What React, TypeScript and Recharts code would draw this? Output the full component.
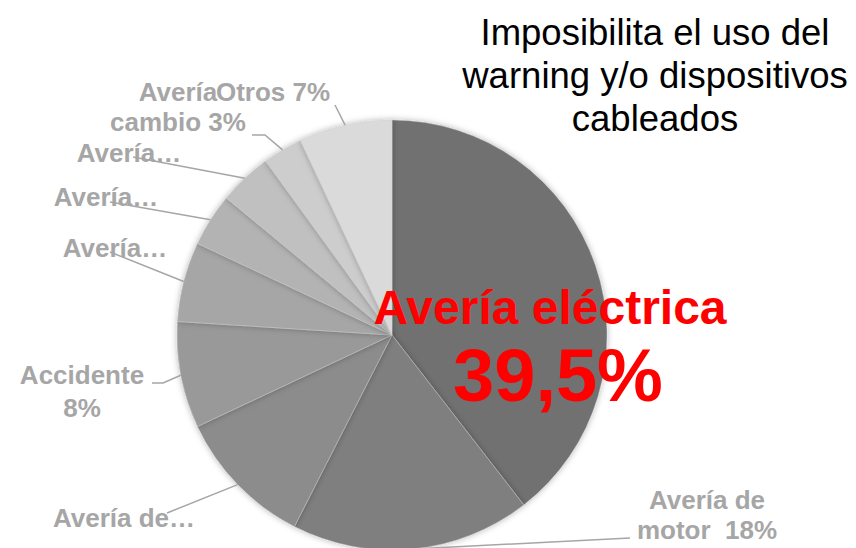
import { PieChart, Pie, Cell } from 'recharts'

const categories = [
  'Avería eléctrica', 'Avería de motor', 'Avería de…', 'Accidente',
  'Avería…', 'Avería…', 'Avería…', 'Avería cambio', 'Otros',
]
const values = [39.5, 18, 10.5, 8, 6, 4, 4, 3, 7]
const labelTexts = [
  ['Avería eléctrica', '39,5%'],
  ['Avería de', 'motor\u00a0 18%'],
  ['Avería de…'],
  ['Accidente', '8%'],
  ['Avería…'],
  ['Avería…'],
  ['Avería…'],
  ['Avería', 'cambio 3%'],
  ['Otros 7%'],
]
const titleLines = ['Imposibilita el uso del', 'warning y/o dispositivos', 'cableados']

const colors = ['#717171', '#7f7f7f', '#8c8c8c', '#999999', '#a6a6a6', '#b3b3b3', '#c0c0c0', '#cdcdcd', '#dadada']

// where each label sits (text centre) and how its leader bends
const labelPos: { x: number; y: number[]; leader: [number, number][] }[] = [
  { x: 550, y: [307, 375], leader: [] },
  { x: 707, y: [500, 530], leader: [[630, 538]] },
  { x: 124, y: [518], leader: [[167, 513]] },
  { x: 82, y: [375, 408], leader: [[163, 383], [152, 383]] },
  { x: 115, y: [248], leader: [[110, 252]] },
  { x: 106, y: [197], leader: [[110, 202]] },
  { x: 129, y: [153], leader: [[133, 157]] },
  { x: 178, y: [92, 122], leader: [[265, 135], [252, 135]] },
  { x: 273, y: [92], leader: [[335, 105]] },
]

const data = categories.map((name, i) => ({ name, value: values[i] }))
const FONT = '"Liberation Sans", Arial, sans-serif'
const RAD = Math.PI / 180

function renderLabel(props: any) {
  const { cx, cy, midAngle, outerRadius, index } = props
  const pos = labelPos[index]
  const lines = labelTexts[index]
  if (index === 0) {
    return (
      <g>
        <text x={pos.x} y={pos.y[0]} textAnchor="middle" dominantBaseline="central"
          fill="#ff0000" fontSize={48} fontWeight="bold" fontFamily={FONT}>{lines[0]}</text>
        <text x={pos.x + 8} y={pos.y[1]} textAnchor="middle" dominantBaseline="central"
          fill="#ff0000" fontSize={74} fontWeight="bold" fontFamily={FONT}>{lines[1]}</text>
      </g>
    )
  }
  const sx = cx + outerRadius * Math.cos(-midAngle * RAD)
  const sy = cy + outerRadius * Math.sin(-midAngle * RAD)
  const pts = [[sx, sy], ...pos.leader].map(p => p.join(',')).join(' ')
  return (
    <g>
      {lines.map((t, k) => (
        <text key={k} x={pos.x} y={pos.y[k]} textAnchor="middle" dominantBaseline="central"
          fill="#a6a6a6" fontSize={26} fontWeight="bold" fontFamily={FONT}>{t}</text>
      ))}
      <polyline points={pts} fill="none" stroke="#a6a6a6" strokeWidth={1.5} />
    </g>
  )
}

export default function App() {
  return (
    <div style={{ position: 'absolute', left: 0, top: 0, width: 856, height: 548, background: '#fff' }}>
      <PieChart width={856} height={548} margin={{ top: 0, right: 0, bottom: 0, left: 0 }}>
        <defs>
          <filter id="pieShadow" x="-10%" y="-10%" width="120%" height="120%">
            <feDropShadow dx="0" dy="0" stdDeviation="3" floodColor="#000" floodOpacity="0.3" />
          </filter>
        </defs>
        <Pie
          data={data}
          dataKey="value"
          nameKey="name"
          cx={392}
          cy={335}
          outerRadius={215}
          startAngle={90}
          endAngle={-270}
          stroke="#d0d0d0"
          strokeWidth={0.4}
          label={renderLabel}
          labelLine={false}
          isAnimationActive={false}
          style={{ filter: 'url(#pieShadow)' }}
        >
          {data.map((d, i) => <Cell key={d.name + i} fill={colors[i]} />)}
        </Pie>
        {titleLines.map((t, i) => (
          <text key={i} x={655} y={32 + i * 43} textAnchor="middle" dominantBaseline="central"
            fill="#000" fontSize={36.5} fontFamily={FONT}>{t}</text>
        ))}
      </PieChart>
    </div>
  )
}
